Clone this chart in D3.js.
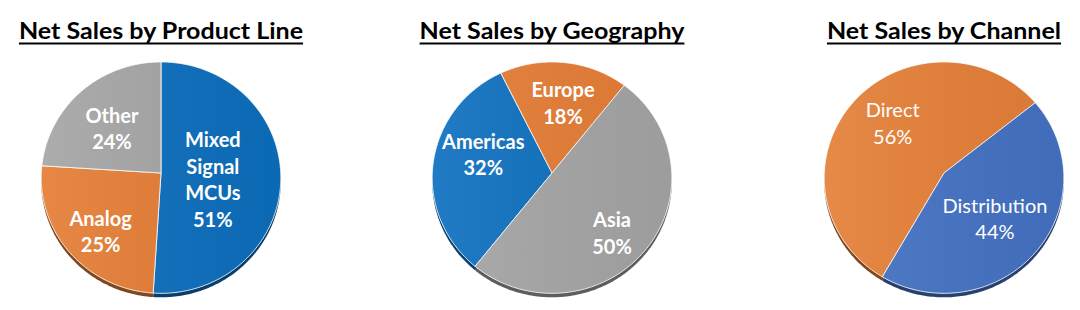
<!DOCTYPE html>
<html>
<head>
<meta charset="utf-8">
<script src="https://cdn.jsdelivr.net/npm/d3@7"></script>
<style>
  html, body { margin: 0; padding: 0; background: #fff; }
  svg { display: block; }
</style>
</head>
<body>
<svg width="1080" height="310"></svg>
<script>
// data
const productCategories = ["Mixed Signal MCUs", "Analog", "Other"];
const productValues = [51, 25, 24];
const geoCategories = ["Americas", "Europe", "Asia"];
const geoValues = [32, 18, 50];
const channelCategories = ["Direct", "Distribution"];
const channelValues = [56, 44];

const titles = ["Net Sales by Product Line", "Net Sales by Geography", "Net Sales by Channel"];

// chart setup (layout + style); label = [radius fraction, angle nudge in degrees]
const charts = [
    {title: titles[0], cats: productCategories, vals: productValues, cx: 161, start: 0,
     colors: ["#0c6ebd", "#e57d35", "#a5a5a5"],
     label: [[0.436, 6.2], [0.703, -3.9], [0.568, -3.9]], weight: "bold",
     wrap: {"Mixed Signal MCUs": ["Mixed", "Signal", "MCUs"]}},
    {title: titles[1], cats: geoCategories, vals: geoValues, cx: 552, start: 218.5,
     colors: ["#0e70bf", "#e57d35", "#a5a5a5"],
     label: [[0.599, 9.1], [0.624, 2.6], [0.711, 7.8]], weight: "bold", wrap: {}},
    {title: titles[2], cats: channelCategories, vals: channelValues, cx: 944, start: 209.8,
     colors: ["#e57f37", "#4472c4"],
     label: [[0.617, 4.4], [0.574, 2.5]], weight: "normal", wrap: {}}
];

const svg = d3.select('svg');
const defs = svg.append('defs');

// light-to-dark sheen across each pie
const sheen = defs.append('linearGradient').attr('id', 'sheen')
    .attr('x1', '0%').attr('x2', '100%').attr('y1', '0%').attr('y2', '0%');
sheen.append('stop').attr('offset', '0%').attr('stop-color', '#fff').attr('stop-opacity', 0.08);
sheen.append('stop').attr('offset', '100%').attr('stop-color', '#000').attr('stop-opacity', 0.05);

const cy = 173, rx = 119.7, ry = 115.5, tilt = 0.04, depth = 4;

// slightly tilted disc: perspective projection of a point on the pie
function project(cx, angle, rho) {
    const x = rho * Math.sin(angle), y = -rho * Math.cos(angle);
    const w = 1 - tilt * y;
    return [cx + rx * x / w, cy + ry * y / w];
}

function slicePath(cx, d) {
    const pts = [project(cx, 0, 0)];
    const n = Math.max(2, Math.ceil((d.endAngle - d.startAngle) / (Math.PI / 180)));
    d3.range(n + 1).forEach(i => {
        pts.push(project(cx, d.startAngle + (d.endAngle - d.startAngle) * i / n, 1));
    });
    return d3.line()(pts) + 'Z';
}

charts.forEach(chart => {
    const g = svg.append('g');
    const pie = d3.pie().sort(null)
        .startAngle(chart.start * Math.PI / 180)
        .endAngle(chart.start * Math.PI / 180 + 2 * Math.PI);
    const arcs = pie(chart.vals);
    const color = d3.scaleOrdinal().domain(chart.cats).range(chart.colors);

    // title, Calibri-like width
    const title = g.append('text')
        .attr('x', chart.cx).attr('y', 38.5)
        .attr('text-anchor', 'middle')
        .style('font-family', 'Lato, sans-serif')
        .style('font-weight', 'bold')
        .style('font-size', '23px')
        .attr('fill', '#000')
        .text(chart.title);
    const tw = title.node().getComputedTextLength() * 1.088;
    title.attr('textLength', tw).attr('lengthAdjust', 'spacingAndGlyphs');
    g.append('rect')
        .attr('x', chart.cx - tw / 2).attr('y', 42.5)
        .attr('width', tw).attr('height', 2)
        .attr('fill', '#000');

    // depth / shadow under the face
    g.append('g').attr('transform', `translate(0, ${depth})`)
        .selectAll('path')
        .data(arcs)
        .join('path')
        .attr('d', d => slicePath(chart.cx, d))
        .attr('fill', (d, i) => d3.color(color(chart.cats[i])).darker(1.6));

    // faces
    g.append('g')
        .selectAll('path')
        .data(arcs)
        .join('path')
        .attr('d', d => slicePath(chart.cx, d))
        .attr('fill', (d, i) => color(chart.cats[i]))
        .attr('stroke', 'rgba(255,255,255,0.85)')
        .attr('stroke-width', 1)
        .attr('stroke-linejoin', 'round');

    g.append('path')
        .attr('d', slicePath(chart.cx, {startAngle: 0, endAngle: 2 * Math.PI}))
        .attr('fill', 'url(#sheen)');

    // labels
    const labels = g.append('g')
        .selectAll('text')
        .data(arcs)
        .join('text')
        .attr('text-anchor', 'middle')
        .attr('fill', '#fff')
        .style('font-family', 'Lato, sans-serif')
        .style('font-weight', chart.weight)
        .style('font-size', '20px');

    labels.each(function (d, i) {
        const cat = chart.cats[i];
        const lines = (chart.wrap[cat] || [cat]).concat([d.data + '%']);
        const mid = (d.startAngle + d.endAngle) / 2 + chart.label[i][1] * Math.PI / 180;
        const p = project(chart.cx, mid, chart.label[i][0]);
        const lh = 26.7;
        const top = p[1] - (lines.length - 1) * lh / 2;
        d3.select(this).selectAll('tspan')
            .data(lines)
            .join('tspan')
            .attr('x', p[0])
            .attr('y', (t, j) => top + j * lh)
            .attr('dy', '0.35em')
            .text(t => t);
    });
});
</script>
</body>
</html>
